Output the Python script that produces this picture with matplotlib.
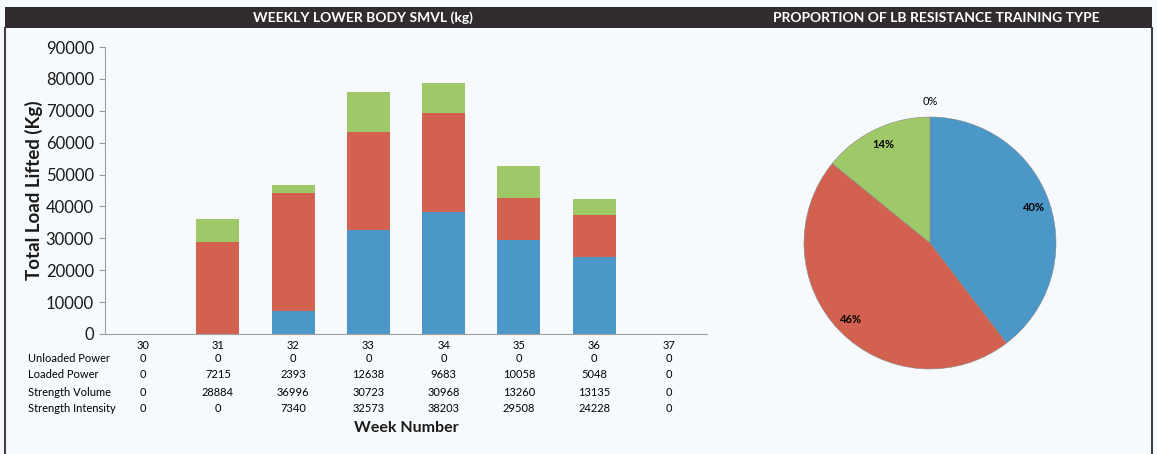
import matplotlib
matplotlib.use("Agg")
import matplotlib.pyplot as plt
from matplotlib.patches import Rectangle
import numpy as np

plt.rcParams['font.family'] = ['Lato', 'DejaVu Sans']

weeks = ['30', '31', '32', '33', '34', '35', '36', '37']
unloaded_power = [0, 0, 0, 0, 0, 0, 0, 0]
loaded_power = [0, 7215, 2393, 12638, 9683, 10058, 5048, 0]
strength_volume = [0, 28884, 36996, 30723, 30968, 13260, 13135, 0]
strength_intensity = [0, 0, 7340, 32573, 38203, 29508, 24228, 0]
row_names = ['Unloaded Power', 'Loaded Power', 'Strength Volume', 'Strength Intensity']

c_blue = '#4b97c8'
c_red = '#d2624f'
c_green = '#9fc969'
c_unl = '#8064a2'
bg = '#f7fafc'

W, H = 1157, 454
fig = plt.figure(figsize=(W / 100, H / 100), dpi=100, facecolor=bg)

def px(x, y):
    return x / W, 1 - y / H

# header bar and frame
hx0, hx1, hy0, hy1 = 5, 1152, 7, 28
fig.patches.append(Rectangle(px(hx0, hy1), (hx1 - hx0) / W, (hy1 - hy0) / H,
                             transform=fig.transFigure, facecolor='#312c30', edgecolor='none'))
for xx in (hx0, hx1):
    fig.add_artist(plt.Line2D([xx / W, xx / W], [1 - hy1 / H, 0], transform=fig.transFigure,
                              color='#444044', lw=1.5))
fig.text(363 / W, 1 - 17.5 / H, 'WEEKLY LOWER BODY SMVL (kg)', color='white',
         fontsize=10, fontweight='bold', ha='center', va='center')
fig.text(936 / W, 1 - 17.5 / H, 'PROPORTION OF LB RESISTANCE TRAINING TYPE', color='white',
         fontsize=10, fontweight='bold', ha='center', va='center')

# stacked bar chart
ax_l, ax_r, ax_t, ax_b = 105, 707, 47, 334
ax = fig.add_axes([ax_l / W, 1 - ax_b / H, (ax_r - ax_l) / W, (ax_b - ax_t) / H])
ax.set_facecolor(bg)
x = np.arange(len(weeks))
si = np.array(strength_intensity)
sv = np.array(strength_volume)
lp = np.array(loaded_power)
up = np.array(unloaded_power)
bw = 0.57
ax.bar(x, si, bw, color=c_blue)
ax.bar(x, sv, bw, bottom=si, color=c_red)
ax.bar(x, lp, bw, bottom=si + sv, color=c_green)
ax.bar(x, up, bw, bottom=si + sv + lp, color=c_unl)
ax.set_xlim(-0.5, len(weeks) - 0.5)
ax.set_ylim(0, 90000)
ax.set_yticks(np.arange(0, 90001, 10000))
ax.tick_params(axis='y', labelsize=12, length=4, color='#999999', pad=4, labelcolor='#1a1a1a')
ax.set_xticks(x)
ax.set_xticklabels(weeks)
ax.tick_params(axis='x', labelsize=8, length=0, pad=4)
for s in ('top', 'right'):
    ax.spines[s].set_visible(False)
for s in ('left', 'bottom'):
    ax.spines[s].set_color('#a0a0a0')
    ax.spines[s].set_linewidth(0.8)
ax.set_ylabel('Total Load Lifted (Kg)', fontsize=13.5, fontweight='bold', labelpad=2,
              color='#1a1a1a')

# data table below the axis
tr = ax.get_xaxis_transform()
axh = ax_b - ax_t
rows = [unloaded_power, loaded_power, strength_volume, strength_intensity]
row_y = [358, 375, 392, 408]
for name, vals, yy in zip(row_names, rows, row_y):
    ya = (ax_b - yy) / axh
    fig.text(28 / W, 1 - yy / H, name, fontsize=8, ha='left', va='center')
    for i, v in enumerate(vals):
        ax.text(i, ya, str(v), transform=tr, fontsize=8, ha='center', va='center', clip_on=False)
ax.text(0.5, (ax_b - 428) / axh, 'Week Number', transform=ax.transAxes, fontsize=11.5,
        fontweight='bold', ha='center', va='center', color='#1a1a1a')

# pie chart
totals = [up.sum(), si.sum(), sv.sum(), lp.sum()]
cx, cy, r = 930, 243, 126
half = 150
pax = fig.add_axes([(cx - half) / W, 1 - (cy + half) / H, 2 * half / W, 2 * half / H])
pax.set_facecolor(bg)
wedges, _ = pax.pie(totals, colors=[c_unl, c_blue, c_red, c_green], startangle=90,
                    counterclock=False, radius=1,
                    wedgeprops=dict(linewidth=0.4, edgecolor='#888888'))
lim = half / r
pax.set_xlim(-lim, lim)
pax.set_ylim(-lim, lim)
pax.set_aspect('equal')
pax.axis('off')
tot = sum(totals)
for w, v in zip(wedges, totals):
    ang = np.deg2rad((w.theta1 + w.theta2) / 2)
    d = 1.12 if v == 0 else 0.87
    pax.text(d * np.cos(ang), d * np.sin(ang), f'{100 * v / tot:.0f}%', fontsize=8,
             fontweight='normal' if v == 0 else 'bold', ha='center', va='center')

fig.savefig('out.png', dpi=100, facecolor=bg)
